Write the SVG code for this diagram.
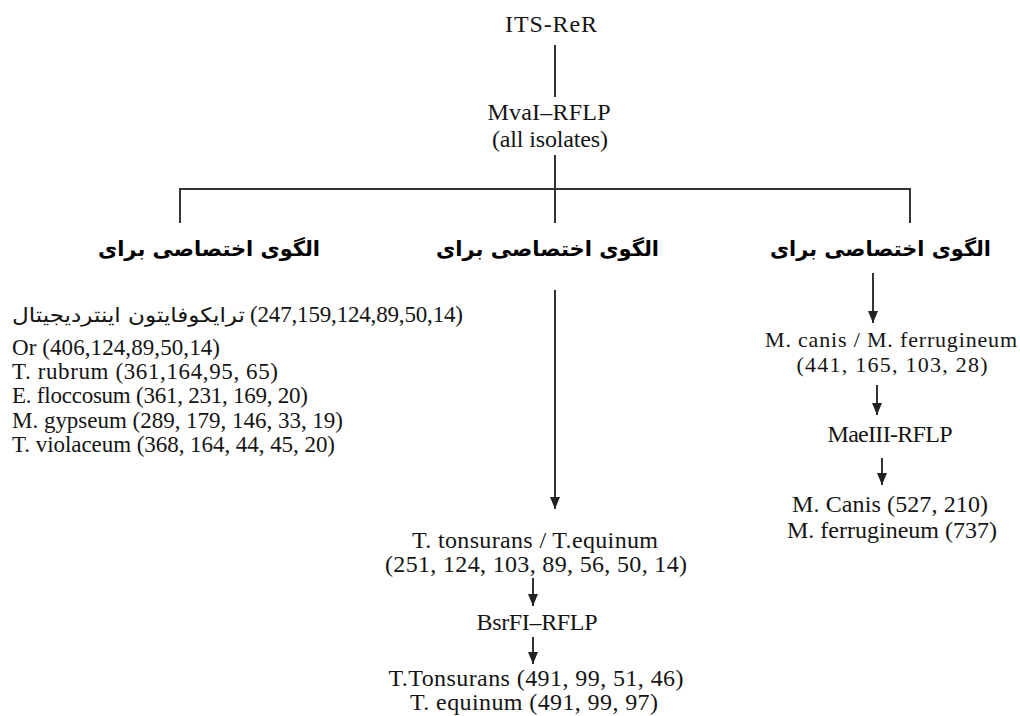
<svg xmlns="http://www.w3.org/2000/svg" width="1020" height="716" viewBox="0 0 1020 716">
<defs>
<style>
.t{font-family:"Liberation Serif","Times New Roman",serif;font-size:24px;fill:#141414}
.m{font-size:22px}
.s{font-family:"Liberation Serif","Times New Roman",serif;font-size:23px;fill:#141414}
.c{text-anchor:middle}
.fa{font-family:"DejaVu Sans","Noto Sans",sans-serif;font-size:20px;fill:#141414}
.h{font-family:"DejaVu Sans","Noto Sans",sans-serif;font-size:21px;font-weight:bold;fill:#000}
.ln{stroke:#333;stroke-width:2;fill:none}
.ar{stroke:#333;stroke-width:2;fill:none;marker-end:url(#ah)}
</style>
<marker id="ah" viewBox="0 0 12 10" refX="12" refY="5" markerWidth="12" markerHeight="10" markerUnits="userSpaceOnUse" orient="auto">
<path d="M0,0 L12,5 L0,10 z" fill="#222"/>
</marker>
</defs>
<rect width="1020" height="716" fill="#fff"/>

<g id="connectors">
<line class="ln" x1="555" y1="45" x2="555" y2="97"/>
<line class="ln" x1="555" y1="155" x2="555" y2="189"/>
<line class="ln" x1="179" y1="189" x2="911" y2="189"/>
<line class="ln" x1="180" y1="188" x2="180" y2="223"/>
<line class="ln" x1="555" y1="188" x2="555" y2="223"/>
<line class="ln" x1="910" y1="188" x2="910" y2="223"/>
<line class="ar" x1="873" y1="273" x2="873" y2="323"/>
<line class="ar" x1="877" y1="385" x2="877" y2="415"/>
<line class="ar" x1="882" y1="458" x2="882" y2="485"/>
<line class="ar" x1="555" y1="290" x2="555" y2="509"/>
<line class="ar" x1="533" y1="578" x2="533" y2="606"/>
<line class="ar" x1="533" y1="637" x2="533" y2="664"/>
</g>

<g id="n-root"><text class="t c" x="551" y="32" textLength="92">ITS-ReR</text></g>
<g id="n-mval">
<text class="t c" x="549" y="120" textLength="123">MvaI–RFLP</text>
<text class="t c" x="550" y="147" textLength="116">(all isolates)</text>
</g>

<g id="n-left-header"><text class="h" x="98" y="256" textLength="222" lengthAdjust="spacingAndGlyphs">الگوی اختصاصی برای</text></g>
<g id="n-mid-header"><text class="h" x="436" y="256" textLength="223" lengthAdjust="spacingAndGlyphs">الگوی اختصاصی برای</text></g>
<g id="n-right-header"><text class="h" x="770" y="256" textLength="221" lengthAdjust="spacingAndGlyphs">الگوی اختصاصی برای</text></g>

<g id="n-left-list">
<text class="fa" x="12" y="322" textLength="233" lengthAdjust="spacingAndGlyphs">ترایکوفایتون اینتردیجیتال</text>
<text class="s" x="250" y="322" textLength="213">(247,159,124,89,50,14)</text>
<text class="s" x="12" y="355" textLength="208">Or (406,124,89,50,14)</text>
<text class="s" x="12" y="379" textLength="266">T. rubrum (361,164,95, 65)</text>
<text class="s" x="12" y="403" textLength="296">E. floccosum (361, 231, 169, 20)</text>
<text class="s" x="12" y="428" textLength="331">M. gypseum (289, 179, 146, 33, 19)</text>
<text class="s" x="12" y="452" textLength="323">T. violaceum (368, 164, 44, 45, 20)</text>
</g>

<g id="n-canis">
<text class="t c m" x="891" y="347" textLength="252">M. canis / M. ferrugineum</text>
<text class="t c m" x="892" y="372" textLength="191">(441, 165, 103, 28)</text>
</g>
<g id="n-maeiii"><text class="t c" x="890" y="442" textLength="125">MaeIII-RFLP</text></g>
<g id="n-canis-result">
<text class="t c" x="890" y="512" textLength="196">M. Canis (527, 210)</text>
<text class="t c" x="892" y="538" textLength="210">M. ferrugineum (737)</text>
</g>

<g id="n-tonsurans">
<text class="t c" x="535" y="548" textLength="246">T. tonsurans / T.equinum</text>
<text class="t c" x="536" y="572" textLength="302">(251, 124, 103, 89, 56, 50, 14)</text>
</g>
<g id="n-bsrfi"><text class="t c" x="537" y="630" textLength="121">BsrFI–RFLP</text></g>
<g id="n-tonsurans-result">
<text class="t c" x="536" y="686" textLength="295">T.Tonsurans (491, 99, 51, 46)</text>
<text class="t c" x="534" y="710" textLength="248">T. equinum (491, 99, 97)</text>
</g>
</svg>
